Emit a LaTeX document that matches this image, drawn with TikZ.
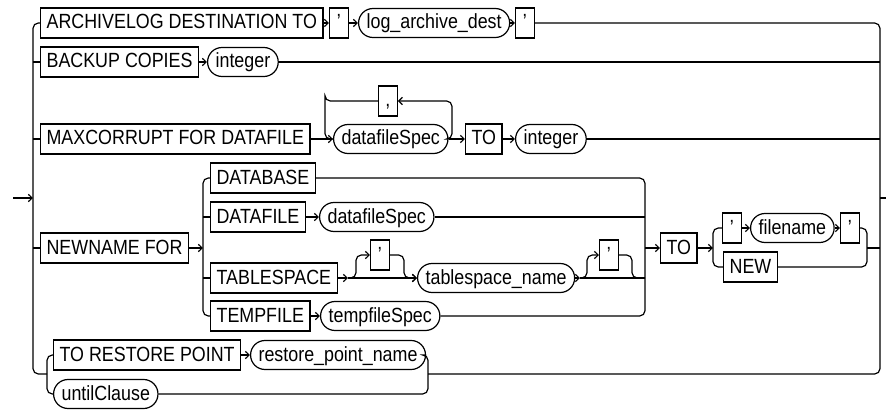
\documentclass[tikz,border=0pt]{standalone}
\usepackage{fontspec}
\setmainfont{Liberation Sans}[FakeStretch=0.87]
\usetikzlibrary{arrows.meta}

\begin{document}
\begin{tikzpicture}[x=0.75pt,y=-0.75pt,line width=0.9pt,
  font=\fontsize{15.4}{18}\selectfont,
  >={Straight Barb[length=2.8pt,width=5.5pt]},
  kw/.style={draw,anchor=west,minimum height=22.5pt,inner xsep=4.5pt,
    inner ysep=0pt,text height=11pt,text depth=2pt},
  qt/.style={kw,minimum width=14pt,inner xsep=0pt},
  ov/.style={kw,rounded corners=10.8pt,minimum height=21.75pt,inner xsep=6pt},
  rail/.style={rounded corners=4pt}]
  \useasboundingbox (0,0) rectangle (886,410);

  \coordinate (start) at (13,198);
  \coordinate (lsplit) at (33,198);
  \coordinate (rjoin) at (880,198);
  \coordinate (end) at (886,198);

  \node[kw] (arch) at (40,23) {ARCHIVELOG DESTINATION TO};
  \node[qt] (q1) at (329,23) {'};
  \node[ov] (lad) at (358,23) {log\_archive\_dest};
  \node[qt] (q2) at (515,23) {'};

  \node[kw] (backup) at (40,62) {BACKUP COPIES};
  \node[ov] (int1) at (207,62) {integer};

  \node[kw] (maxc) at (40,139) {MAXCORRUPT FOR DATAFILE};
  \node[ov] (dfs1) at (333,139) {datafileSpec};
  \node[qt] (comma) at (378,101) {,};
  \coordinate (lpL) at (325,101);
  \coordinate (lpR) at (452,101);
  \node[kw] (to1) at (465,139) {TO};
  \node[ov] (int2) at (515,139) {integer};

  \node[kw] (newname) at (40,248) {NEWNAME FOR};
  \coordinate (nsplit) at (203,248);
  \coordinate (njoin) at (645,248);
  \node[kw] (database) at (210,178) {DATABASE};
  \node[kw] (datafile) at (210,217) {DATAFILE};
  \node[ov] (dfs2) at (319,217) {datafileSpec};
  \node[kw] (tablespace) at (210,278) {TABLESPACE};
  \coordinate (tsA) at (348,278);
  \coordinate (tsL) at (356,266);
  \node[qt] (q3) at (370,255) {'};
  \coordinate (tsR) at (404,266);
  \node[ov] (tsn) at (417,278) {tablespace\_name};
  \coordinate (tnA) at (580,278);
  \coordinate (tnL) at (587,266);
  \node[qt] (q4) at (599,255) {'};
  \coordinate (tnR) at (632,266);
  \node[kw] (tempfile) at (210,316) {TEMPFILE};
  \node[ov] (tfs) at (320,316) {tempfileSpec};

  \node[kw] (to2) at (660,248) {TO};
  \coordinate (fsplit) at (713,248);
  \coordinate (fjoin) at (867,248);
  \node[qt] (q5) at (722,228) {'};
  \node[ov] (fname) at (750,228) {filename};
  \node[qt] (q6) at (840,228) {'};
  \node[kw] (new) at (723,267) {NEW};

  \coordinate (lbot) at (47,374);
  \coordinate (rbot) at (428,374);
  \node[kw] (trp) at (53,355) {TO RESTORE POINT};
  \node[ov] (rpn) at (250,355) {restore\_point\_name};
  \node[ov] (until) at (53,394) {untilClause};

  \draw[->] (start) -- (lsplit);
  \draw[rail] (arch.west) -| (lsplit) |- (lbot);
  \draw[rail] (q2.east) -| (rjoin) |- (rbot);
  \draw (rjoin) -- (end);

  \draw[->] (arch.east) -- (q1.west);
  \draw[->] (q1.east) -- (lad.west);
  \draw[->] (lad.east) -- (q2.west);

  \draw (backup.west -| lsplit) -- (backup.west);
  \draw[->] (backup.east) -- (int1.west);
  \draw (int1.east) -- (int1.east -| rjoin);

  \draw (maxc.west -| lsplit) -- (maxc.west);
  \draw[->] (maxc.east) -- (dfs1.west);
  \draw[rail,->] (dfs1.east) -| (lpR) -- (comma.east);
  \draw[rail] (comma.west) -| (lpL) |- (dfs1.west);
  \draw[->] (dfs1.east) -- (to1.west);
  \draw[->] (to1.east) -- (int2.west);
  \draw (int2.east) -- (int2.east -| rjoin);

  \draw (newname.west -| lsplit) -- (newname.west);
  \draw[->] (newname.east) -- (nsplit);
  \draw[rail] (database.west) -| (nsplit) |- (tempfile.west);
  \draw (datafile.west -| nsplit) -- (datafile.west);
  \draw (tablespace.west -| nsplit) -- (tablespace.west);
  \draw[rail] (database.east) -| (njoin) |- (tfs.east);
  \draw[->] (datafile.east) -- (dfs2.west);
  \draw (dfs2.east) -- (dfs2.east -| njoin);
  \draw[->] (tablespace.east) -- (tsA);
  \draw[->] (tsA) -- (tsn.west);
  \draw[rail,->] (tsA) -| (tsL) |- (q3.west);
  \draw[rail,->] (q3.east) -| (tsR) |- (tsn.west);
  \draw[->] (tsn.east) -- (tnA);
  \draw (tnA) -- (tnA -| njoin);
  \draw[rail,->] (tnA) -| (tnL) |- (q4.west);
  \draw[rail] (q4.east) -| (tnR) |- (tnA -| njoin);
  \draw[->] (tempfile.east) -- (tfs.west);

  \draw[->] (njoin) -- (to2.west);
  \draw[->] (to2.east) -- (fsplit);
  \draw[rail] (q5.west) -| (fsplit) |- (new.west);
  \draw[->] (q5.east) -- (fname.west);
  \draw[->] (fname.east) -- (q6.west);
  \draw[rail] (q6.east) -| (fjoin) |- (new.east);
  \draw (fjoin) -- (rjoin |- fjoin);

  \draw[rail] (trp.west) -| (lbot) |- (until.west);
  \draw[->] (trp.east) -- (rpn.west);
  \draw[rail] (rpn.east) -| (rbot) |- (until.east);
\end{tikzpicture}
\end{document}
